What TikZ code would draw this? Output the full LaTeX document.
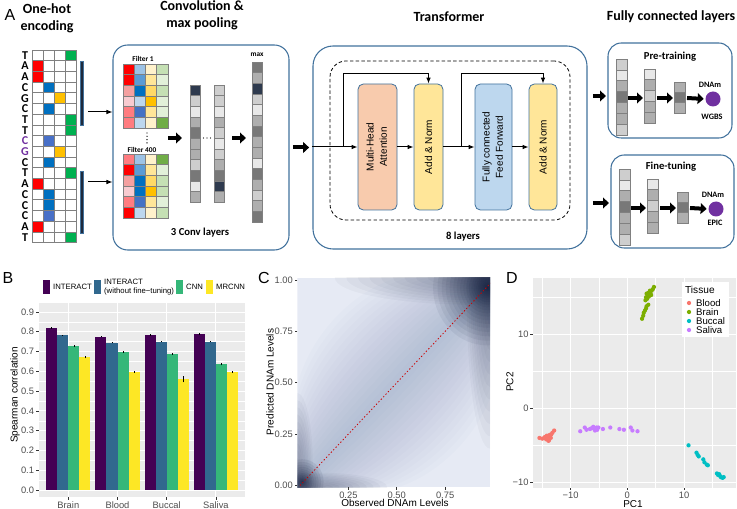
\documentclass[tikz,border=0pt]{standalone}
\usepackage{fontspec}
\setmainfont{Liberation Sans}
\newfontfamily\calibri{Carlito}
\usetikzlibrary{arrows.meta,positioning}

\definecolor{boxline}{RGB}{65,113,156}
\definecolor{cellline}{RGB}{128,128,128}
\definecolor{baseA}{RGB}{255,0,0}
\definecolor{baseC}{RGB}{0,112,192}
\definecolor{baseCl}{RGB}{72,112,200}
\definecolor{baseG}{RGB}{255,192,0}
\definecolor{baseT}{RGB}{0,176,80}
\definecolor{cgpurple}{RGB}{112,48,160}
\definecolor{barnavy}{RGB}{31,42,60}
\definecolor{gA}{RGB}{232,232,232}
\definecolor{gB}{RGB}{206,206,206}
\definecolor{gC}{RGB}{174,174,174}
\definecolor{gD}{RGB}{120,120,120}
\definecolor{gE}{RGB}{46,58,78}
\definecolor{fr1}{HTML}{FF0000}
\definecolor{fr2}{HTML}{FF7C80}
\definecolor{fr3}{HTML}{F8CBD0}
\definecolor{fr4}{HTML}{F4A0A0}
\definecolor{fb1}{HTML}{9DC3E6}
\definecolor{fb2}{HTML}{5B9BD5}
\definecolor{fb3}{HTML}{0070C0}
\definecolor{fb4}{HTML}{BDD7EE}
\definecolor{fb5}{HTML}{4472C4}
\definecolor{fy1}{HTML}{FFF2CC}
\definecolor{fy2}{HTML}{FFE699}
\definecolor{fy3}{HTML}{FFD966}
\definecolor{fy4}{HTML}{FFC000}
\definecolor{fg1}{HTML}{C5E0B4}
\definecolor{fg2}{HTML}{E2F0D9}
\definecolor{fg4}{HTML}{70AD47}
\definecolor{mhafill}{HTML}{F8CBAD}
\definecolor{anfill}{HTML}{FFE699}
\definecolor{fffill}{HTML}{BDD7EE}
\definecolor{dnam}{HTML}{7030A0}
\definecolor{vPurple}{HTML}{440154}
\definecolor{vBlue}{HTML}{31688E}
\definecolor{vGreen}{HTML}{35B779}
\definecolor{vYellow}{HTML}{FDE725}
\definecolor{ggbg}{HTML}{EBEBEB}
\definecolor{ticktext}{HTML}{4D4D4D}
\definecolor{tickline}{HTML}{333333}
\definecolor{tBlood}{HTML}{F8766D}
\definecolor{tBrain}{HTML}{7CAE00}
\definecolor{tBuccal}{HTML}{00BFC4}
\definecolor{tSaliva}{HTML}{C77CFF}
\definecolor{densbase}{RGB}{230,234,244}
\definecolor{densmid}{RGB}{100,122,175}
\definecolor{densdark}{RGB}{8,20,52}

\tikzset{every picture/.style={line width=0.75pt}}

\begin{document}
\begin{tikzpicture}[x=0.75pt,y=0.75pt,yscale=-1,xscale=1,
  cell/.style={draw=cellline, line width=0.45pt},
  rbox/.style={draw=boxline, line width=0.8pt, inner sep=0pt},
  blk/.style={draw=boxline, line width=0.6pt, rounded corners=4pt, inner sep=0pt},
  link/.style={line width=0.75pt, -{Latex[length=4.5pt,width=3.5pt]}},
  fat/.style={line width=3pt, -{Triangle[length=4.5pt,width=8pt]}},
  hdr/.style={font=\calibri\bfseries\fontsize{10.5}{12.5}\selectfont, align=center, inner sep=0.75pt},
  lbl/.style={font=\calibri\bfseries\fontsize{8}{9}\selectfont, inner sep=0.75pt},
  fsmall/.style={font=\calibri\bfseries\fontsize{5.5}{6}\selectfont, inner sep=0.75pt},
  seq/.style={font=\calibri\bfseries\fontsize{9}{9}\selectfont, inner sep=0pt},
  rot/.style={font=\fontsize{7.5}{10}\selectfont},
  panel/.style={font=\fontsize{12}{14}\selectfont, inner sep=0pt},
  tk/.style={font=\fontsize{7}{8}\selectfont, text=ticktext, inner sep=1pt},
  axt/.style={font=\fontsize{7.5}{9}\selectfont, inner sep=0.75pt},
  leg/.style={font=\fontsize{5.8}{6.8}\selectfont, inner sep=0.5pt},
  pcdot/.style={circle, inner sep=0pt, minimum size=3.2pt},
  tkl/.style={draw=tickline, line width=0.5pt}
]
\useasboundingbox (0,0) rectangle (737,509);

% Panel letters
\node[panel] (lblA) at (10,15) {A};
\node[panel] (lblB) at (8,278) {B};
\node[panel] (lblC) at (264,278) {C};
\node[panel] (lblD) at (512,278) {D};

% Text Node
\node[hdr] (hOnehot) at (47,18) {One-hot\\encoding};
% Text Node
\node[hdr] (hConv) at (202,15) {Convolution \&\\max pooling};
% Text Node
\node[hdr] (hTrans) at (449,17) {Transformer};
% Text Node
\node[hdr] (hFc) at (671,17) {Fully connected layers};

%Shape: One-hot grid
\foreach \b/\c/\f/\t [count=\i] in {T/4/baseT/black,A/1/baseA/black,A/1/baseA/black,C/2/baseC/black,G/3/baseG/black,C/2/baseC/black,T/4/baseT/black,T/4/baseT/black,C/2/baseCl/cgpurple,G/3/baseG/cgpurple,C/2/baseC/black,T/4/baseT/black,A/1/baseA/black,C/2/baseC/black,C/2/baseC/black,C/2/baseCl/black,A/1/baseA/black,T/4/baseT/black}{
  \foreach \j in {1,...,4}
    \draw[cell, fill=white] ({32+(\j-1)*11},{50+(\i-1)*10.7}) rectangle ++(11,10.7);
  \draw[cell, fill=\f] ({32+(\c-1)*11},{50+(\i-1)*10.7}) rectangle ++(11,10.7);
  \node[seq, text=\t] (s\i) at (25,{55.35+(\i-1)*10.7}) {\b};
}

%Shape: window bars
\draw[draw=boxline, fill=barnavy, line width=0.5pt] (80,61) rectangle (83.5,125);
\draw[draw=boxline, fill=barnavy, line width=0.5pt] (80,171) rectangle (83.5,233);
\coordinate (win1) at (88,112);
\coordinate (win2) at (88,182);

%Shape: Convolution box
\node[rbox, rounded corners=11pt, minimum width=132pt, minimum height=153.75pt] (conv) at (201,147.5) {};
\draw[link] (win1) -- (win1 -| conv.west);
\draw[link] (win2) -- (win2 -| conv.west);

% Text Node
\node[fsmall] (filt1) at (143,59) {Filter 1};
% Text Node
\node[fsmall] (filt400) at (142,149.5) {Filter 400};
% Text Node
\node[fsmall] (maxlbl) at (257,55) {max};
% Text Node
\node[lbl] (convlbl) at (200,233) {3 Conv layers};

%Shape: filters
\foreach \row [count=\j] in {{fr1,fb1,fy1,fg1},{fr1,fb2,fy2,fg2},{fr4,fb3,fy3,fg1},{fr3,fb4,fy4,fg2},{fr2,fb5,fy2,fg2},{fr2,fb4,fy1,fg4}}
  \foreach \f [count=\i] in \row
    \draw[cell, fill=\f] ({123+(\i-1)*11.25},{64+(\j-1)*10.67}) rectangle ++(11.25,10.67);
\foreach \row [count=\j] in {{fr2,fb1,fy1,fg4},{fr1,fb2,fy2,fg2},{fr4,fb3,fy3,fg1},{fr3,fb3,fy4,fg1},{fr2,fb5,fy2,fg2},{fr1,fb4,fy1,fg1}}
  \foreach \f [count=\i] in \row
    \draw[cell, fill=\f] ({123+(\i-1)*11.25},{154+(\j-1)*10.67}) rectangle ++(11.25,10.67);
\foreach \y in {133,136.3,139.6,142.9} \fill (147,\y) circle (0.7);

%Shape: feature maps
\foreach \g [count=\i] in {gE,gB,gA,gC,gD,gC,gC,gB,gD,gA,gC}
  \draw[cell, fill=\g] (190,{85+(\i-1)*10.67}) rectangle ++(10,10.67);
\foreach \g [count=\i] in {gB,gB,gA,gC,gB,gA,gB,gC,gD,gE,gC}
  \draw[cell, fill=\g] (214,{85+(\i-1)*10.67}) rectangle ++(10,10.67);
\foreach \x in {203.5,207,210.5} \fill (\x,138) circle (0.7);
\foreach \g [count=\i] in {gD,gC,gE,gB,gA,gC,gD,gC,gC,gA,gD,gC,gB,gC,gD}
  \draw[cell, fill=\g] (252,{62+(\i-1)*10.67}) rectangle ++(10,10.67);
\coordinate (cva) at (168,138);
\coordinate (cvb) at (182,138);
\coordinate (cvc) at (232,138);
\coordinate (cvd) at (246,138);
\draw[fat] (cva) -- (cvb);
\draw[fat] (cvc) -- (cvd);

%Shape: Transformer box
\node[rbox, rounded corners=15pt, minimum width=205.5pt, minimum height=152.25pt] (trans) at (450,147.5) {};
\node[draw, dash pattern=on 2.5pt off 1.8pt, line width=0.6pt, rounded corners=12pt, inner sep=0pt, minimum width=180pt, minimum height=119.25pt] (layer) at (450,140.5) {};
\node[blk, fill=mhafill, minimum width=29.25pt, minimum height=94.5pt, rot] (mha) at (377.5,147) {\rotatebox{90}{\begin{tabular}{@{}c@{}}Multi-Head\\Attention\end{tabular}}};
\node[blk, fill=anfill, minimum width=21.75pt, minimum height=94.5pt, rot] (an1) at (428.5,147) {\rotatebox{90}{Add \& Norm}};
\node[blk, fill=fffill, minimum width=27.75pt, minimum height=94.5pt, rot] (ff) at (493.5,147) {\rotatebox{90}{\begin{tabular}{@{}c@{}}Fully connected\\Feed Forward\end{tabular}}};
\node[blk, fill=anfill, minimum width=21pt, minimum height=94.5pt, rot] (an2) at (543,147) {\rotatebox{90}{Add \& Norm}};
% Text Node
\node[lbl] (layerlbl) at (463,237) {8 layers};

%Straight Lines
\draw[link] (trans.west |- mha.west) -- (mha.west);
\coordinate (br1) at (343,147);
\coordinate (top1) at (343,74);
\draw[link] (br1) -- (top1) -| (an1.north);
\draw[link] (mha.east) -- (an1.west);
\draw[link] (an1.east) -- (ff.west);
\coordinate (br2) at (461,147);
\coordinate (top2) at (461,74);
\draw[link] (br2) -- (top2) -| (an2.north);
\draw[link] (ff.east) -- (an2.west);
\draw[fat, shorten <=2.5pt, shorten >=2.5pt] (conv.east) -- (trans.west);

%Shape: Fully connected boxes
\node[rbox, rounded corners=10pt, minimum width=93pt, minimum height=71.25pt] (pre) at (670,90.5) {};
\node[rbox, rounded corners=10pt, minimum width=92.25pt, minimum height=69.75pt] (fine) at (672.5,201.5) {};
% Text Node
\node[lbl] (prelbl) at (670,57) {Pre-training};
% Text Node
\node[lbl] (finelbl) at (671,167) {Fine-tuning};
\coordinate (preIn) at (606,96);
\coordinate (fineIn) at (609,203);
\draw[fat, shorten <=4pt] (trans.east |- preIn) -- (preIn);
\draw[fat, shorten <=4pt] (trans.east |- fineIn) -- (fineIn);

\foreach \dx/\dy/\nm/\src/\sy in {0/0/pre/WGBS/117,3/110/fine/EPIC/223}{
  \foreach \g [count=\i] in {gB,gA,gC,gD,gC,gC,gB}
    \draw[cell, fill=\g] ({616+\dx},{59+\dy+(\i-1)*10.86}) rectangle ++(11,10.86);
  \foreach \g [count=\i] in {gA,gC,gB,gC,gC}
    \draw[cell, fill=\g] ({644+\dx},{69+\dy+(\i-1)*10.8}) rectangle ++(11,10.8);
  \foreach \g [count=\i] in {gC,gD,gC}
    \draw[cell, fill=\g] ({674+\dx},{82+\dy+(\i-1)*10.33}) rectangle ++(11,10.33);
  \node[circle, fill=dnam, minimum size=11.25pt, inner sep=0pt] (\nm Dot) at ({713+\dx},{99+\dy}) {};
  \node[fsmall, font=\calibri\bfseries\fontsize{6.2}{7}\selectfont] (\nm Top) at ({710+\dx},{85+\dy}) {DNAm};
  \node[fsmall, font=\calibri\bfseries\fontsize{6.2}{7}\selectfont] (\nm Src) at ({712+\dx},\sy) {\src};
  \coordinate (\nm A1) at ({628+\dx},{98+\dy});
  \coordinate (\nm A2) at ({643+\dx},{98+\dy});
  \coordinate (\nm A3) at ({657+\dx},{98+\dy});
  \coordinate (\nm A4) at ({673+\dx},{98+\dy});
  \coordinate (\nm A5) at ({687+\dx},{98+\dy});
  \draw[fat] (\nm A1) -- (\nm A2);
  \draw[fat] (\nm A3) -- (\nm A4);
  \draw[fat, shorten >=1pt] (\nm A5) -- (\nm Dot.west);
}

%Panel B: bar chart
\fill[vPurple] (43,280) rectangle (50,294);
\node[leg, anchor=west] (lgInteract) at (52,287) {INTERACT};
\fill[vBlue] (94,280) rectangle (101,294);
\node[leg, anchor=west, align=left] (lgNoft) at (103,287) {INTERACT\\(without fine−tuning)};
\fill[vGreen] (176,280) rectangle (183,294);
\node[leg, anchor=west] (lgCnn) at (185,287) {CNN};
\fill[vYellow] (206,280) rectangle (213,294);
\node[leg, anchor=west] (lgMrcnn) at (215,287) {MRCNN};
\node[axt, rotate=90] (ylabB) at (15,395) {Spearman correlation};

\begin{scope}[shift={(68.3,490)}, xscale=49.2, yscale=-197.8]
\fill[ggbg] (-0.6,-0.035) rectangle (3.6,0.945);
\foreach \v in {0.05,0.15,0.25,0.35,0.45,0.55,0.65,0.75,0.85}
  \draw[white, line width=0.3pt] (-0.6,\v) -- (3.6,\v);
\foreach \v [count=\n] in {0.0,0.1,0.2,0.3,0.4,0.5,0.6,0.7,0.8,0.9}{
  \draw[white, line width=0.65pt] (-0.6,\v) -- (3.6,\v);
  \draw[tkl] (-0.6,\v) -- (-0.66,\v);
  \node[tk, anchor=east] (yb\n) at (-0.66,\v) {\v};
}
\foreach \k/\nm in {0/Brain,1/Blood,2/Buccal,3/Saliva}{
  \draw[white, line width=0.65pt] (\k,-0.035) -- (\k,0.945);
  \draw[tkl] (\k,-0.035) -- (\k,-0.05);
  \node[tk, anchor=north] (xb\k) at (\k,-0.05) {\nm};
}
\foreach \k/\a/\b/\c/\d/\e in {0/0.820/0.782/0.727/0.671/0.005,1/0.776/0.745/0.700/0.598/0.005,2/0.785/0.750/0.690/0.560/0.016,3/0.788/0.750/0.635/0.598/0.005}{
  \fill[vPurple] (\k-0.45,0) rectangle (\k-0.225,\a);
  \fill[vBlue] (\k-0.225,0) rectangle (\k,\b);
  \fill[vGreen] (\k,0) rectangle (\k+0.225,\c);
  \fill[vYellow] (\k+0.225,0) rectangle (\k+0.45,\d);
  \draw[line width=0.5pt] (\k-0.3375,\a-0.004) -- (\k-0.3375,\a+0.004);
  \draw[line width=0.5pt] (\k-0.1125,\b-0.004) -- (\k-0.1125,\b+0.004);
  \draw[line width=0.5pt] (\k+0.1125,\c-0.005) -- (\k+0.1125,\c+0.005);
  \draw[line width=0.5pt] (\k+0.3375,\d-\e) -- (\k+0.3375,\d+\e);
}
\end{scope}

%Panel C: density of predicted vs observed
\node[axt] (xlabC) at (395,503) {Observed DNAm Levels};
\node[axt, rotate=90] (ylabC) at (270,382) {Predicted DNAm Levels};
\begin{scope}[shift={(300,485.5)}, xscale=193.5, yscale=-205.5]
\begin{scope}
\clip (-0.014,-0.008) rectangle (0.982,1.012);
\fill[densbase] (-0.014,-0.008) rectangle (0.982,1.012);
\foreach \i in {1,...,16}
  \fill[densmid, opacity=0.025, rotate around={45:(0.5,0.5)}] (0.5,0.5) ellipse [x radius={0.85-0.015*\i}, y radius={0.028*\i}];
\foreach \i in {1,...,12}{
  \fill[densdark, opacity=0.03] (0.9,1.012) ellipse [x radius={0.06*\i}, y radius={0.011*\i}];
  \fill[densdark, opacity=0.03] (0.982,0.9) ellipse [x radius={0.01*\i}, y radius={0.06*\i}];
}
\foreach \i in {1,...,24}
  \fill[densdark, opacity=0.06] (0.968,0.962) circle [radius={0.28*(\i/24)^2}];
\foreach \i in {1,...,10}{
  \fill[densdark, opacity=0.03] (-0.014,0.1) ellipse [x radius={0.008*\i}, y radius={0.035*\i}];
  \fill[densdark, opacity=0.03] (0.1,-0.008) ellipse [x radius={0.035*\i}, y radius={0.007*\i}];
}
\foreach \i in {1,...,16}
  \fill[densdark, opacity=0.08] (0.012,0.018) circle [radius={0.11*(\i/16)^2}];
\draw[red!80!black, line width=0.6pt, dash pattern=on 1pt off 1.6pt] (0,0) -- (1,1);
\end{scope}
\foreach \v/\t [count=\n] in {0/0.00,0.25/0.25,0.5/0.50,0.75/0.75,1/1.00}{
  \draw[tkl] (-0.014,\v) -- (-0.028,\v);
  \node[tk, anchor=east] (yc\n) at (-0.028,\v) {\t};
}
\foreach \v/\t [count=\n] in {0.25/0.25,0.5/0.50,0.75/0.75}{
  \draw[tkl] (\v,-0.008) -- (\v,-0.022);
  \node[tk, anchor=north] (xc\n) at (\v,-0.022) {\t};
}
\end{scope}

%Panel D: PCA
\node[axt] (xlabD) at (633,504.5) {PC1};
\node[axt, rotate=90] (ylabD) at (510,382) {PC2};
\begin{scope}[shift={(627.3,408.3)}, xscale=5.67, yscale=-7.4]
\fill[ggbg] (-16.6,-10.8) rectangle (19.2,17.6);
\foreach \v in {-15,-5,5,15} \draw[white, line width=0.3pt] (\v,-10.8) -- (\v,17.6);
\foreach \v in {-5,5,15} \draw[white, line width=0.3pt] (-16.6,\v) -- (19.2,\v);
\foreach \v/\t [count=\n] in {-10/−10,0/0,10/10}{
  \draw[white, line width=0.65pt] (\v,-10.8) -- (\v,17.6);
  \draw[white, line width=0.65pt] (-16.6,\v) -- (19.2,\v);
  \draw[tkl] (\v,-10.8) -- (\v,-11.1);
  \draw[tkl] (-16.6,\v) -- (-17.1,\v);
  \node[tk, anchor=north, inner sep=0.5pt] (xd\n) at (\v,-11.1) {\t};
  \node[tk, anchor=east] (yd\n) at (-17.1,\v) {\t};
}
\foreach \x/\y [count=\n] in {-15.5/-4.0,-15.0/-4.1,-14.6/-3.9,-14.3/-4.2,-14.0/-3.8,-13.8/-4.3,-13.7/-3.6,-13.5/-4.0,-13.4/-3.5,-13.9/-4.4,-14.2/-3.7,-13.2/-3.3,-12.9/-3.0,-13.6/-3.9,-14.4/-4.0}
  \node[pcdot, fill=tBlood] (bl\n) at (\x,\y) {};
\foreach \x/\y [count=\n] in {2.6/12.1,2.8/12.5,2.9/12.9,3.1/13.2,3.3/13.5,3.4/13.8,3.7/14.0,3.2/14.6,3.3/15.0,3.5/14.8,3.6/15.2,3.8/15.1,3.4/15.5,3.9/15.6,4.1/15.5,4.0/15.9,4.3/15.9,4.5/16.1,4.7/16.4,3.7/15.6,4.2/15.3}
  \node[pcdot, fill=tBrain] (bn\n) at (\x,\y) {};
\foreach \x/\y [count=\n] in {10.8/-5.0,12.2/-6.0,12.4/-6.3,12.6/-6.5,13.4/-6.9,13.6/-7.3,14.0/-7.6,14.2/-7.7,15.8/-8.8,16.0/-9.0,16.3/-9.1,16.5/-9.3,16.8/-9.4,17.0/-9.3,16.2/-8.9}
  \node[pcdot, fill=tBuccal] (bu\n) at (\x,\y) {};
\foreach \x/\y [count=\n] in {-8.3/-3.1,-7.5/-2.6,-7.2/-2.9,-6.6/-2.8,-6.3/-2.7,-6.0/-2.5,-5.8/-2.7,-5.7/-3.0,-5.4/-2.6,-5.3/-2.9,-5.1/-2.6,-4.3/-2.8,-3.0/-2.6,-1.4/-2.8,-0.6/-2.9,0.6/-2.6,0.9/-3.0,1.8/-3.1}
  \node[pcdot, fill=tSaliva] (sa\n) at (\x,\y) {};
\end{scope}
\fill[white] (682,282) rectangle (729,337);
\node[anchor=west, font=\fontsize{7.6}{9}\selectfont, inner sep=0.5pt] (lgTissue) at (684,290) {Tissue};
\foreach \c/\t/\y [count=\n] in {tBlood/Blood/303,tBrain/Brain/312,tBuccal/Buccal/321,tSaliva/Saliva/330}{
  \node[pcdot, fill=\c] (lgd\n) at (689,\y) {};
  \node[anchor=west, font=\fontsize{7.2}{8}\selectfont, inner sep=0.5pt] (lgt\n) at (695,\y) {\t};
}
\end{tikzpicture}
\end{document}
